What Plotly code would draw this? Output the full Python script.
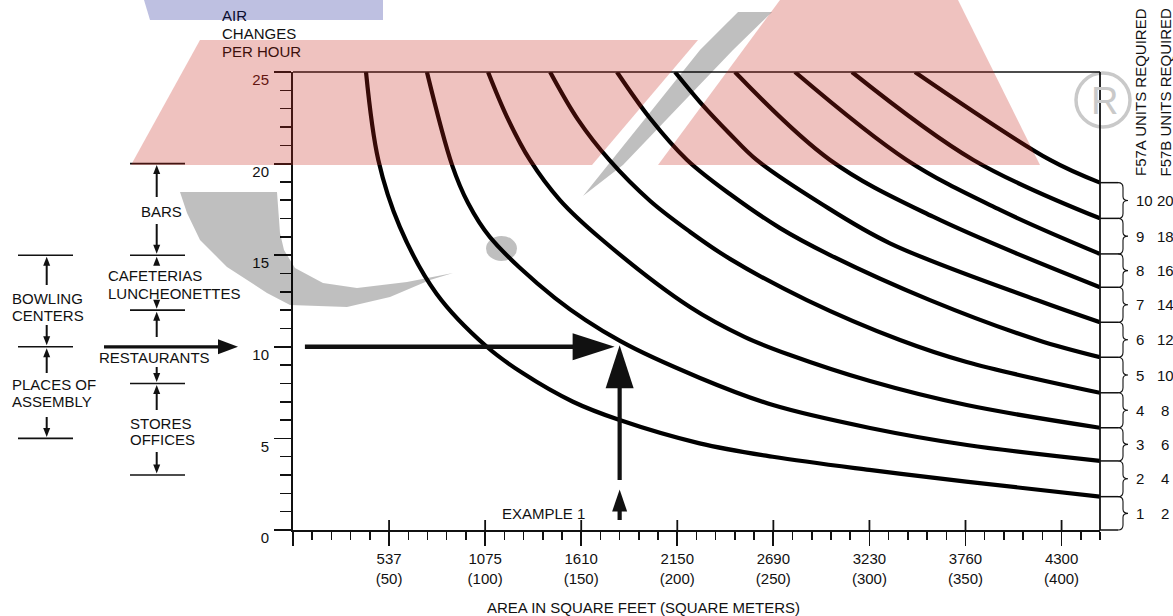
import math
import plotly.graph_objects as go

# ---------------- data (area in m², air changes per hour) ----------------
c1_x = [38, 44.4, 55.6, 74.7, 100.9, 119.7, 145.7, 170.0, 211.6, 249.7, 300.0, 350.3, 420]
c1_y = [25, 20.2, 16.55, 12.9, 10.0, 8.55, 7.0, 6.0, 4.73, 4.0, 3.28, 2.64, 1.82]
c2_x = [69.7, 82.8, 91.1, 102.5, 136.4, 170.2, 211.8, 249.8, 300.3, 350.8, 420]
c2_y = [25, 19.92, 17.85, 15.99, 12.66, 10.32, 8.30, 6.82, 5.57, 4.64, 3.77]
c3_x = [101.5, 111.4, 123.3, 138.9, 159.8, 206.6, 235.2, 258.7, 300.3, 350.6, 420]
c3_y = [25, 22.54, 20.2, 18.01, 15.94, 12.17, 10.53, 9.55, 8.13, 6.82, 5.58]
c4_x = [133.8, 148.3, 164.6, 185.9, 206.7, 227.4, 267.4, 315.9, 350.6, 420]
c4_y = [25, 22.40, 20.2, 17.96, 16.27, 14.80, 12.55, 10.37, 9.17, 7.49]
c5_x = [168.6, 185.7, 205.1, 227.4, 253.5, 279.5, 331.5, 387.5, 420]
c5_y = [25, 22.49, 20.2, 18.34, 16.48, 15.01, 12.55, 10.37, 9.43]
c6_x = [198.8, 211.8, 227.4, 241.3, 274.3, 310.7, 387.1, 420]
c6_y = [25, 23.36, 21.62, 20.2, 17.85, 15.65, 12.55, 11.34]
c7_x = [230.0, 279.5, 333.1, 420]
c7_y = [25, 20.2, 17.10, 13.25]
c8_x = [261.2, 319.4, 368.0, 420]
c8_y = [25, 20.2, 17.47, 15.07]
c9_x = [290.9, 354.1, 420]
c9_y = [25, 20.2, 17.01]
c10_x = [323.7, 394.0, 420]
c10_y = [25, 20.2, 18.96]

curves = [(c1_x, c1_y), (c2_x, c2_y), (c3_x, c3_y), (c4_x, c4_y), (c5_x, c5_y),
          (c6_x, c6_y), (c7_x, c7_y), (c8_x, c8_y), (c9_x, c9_y), (c10_x, c10_y)]

x_tick_m2 = [0, 50, 100, 150, 200, 250, 300, 350, 400]
x_tick_sqft = ["", "537", "1075", "1610", "2150", "2690", "3230", "3760", "4300"]
y_ticks = [0, 5, 10, 15, 20, 25]
units_f57a = [1, 2, 3, 4, 5, 6, 7, 8, 9, 10]
units_f57b = [2, 4, 6, 8, 10, 12, 14, 16, 18, 20]

example_area = 170      # m²
example_ach = 10

# ---------------- geometry helpers (page pixels -> paper) ----------------
W, H = 1173, 616
L, R, T, B = 293, 1100, 72, 530      # plot area, page pixels
XMAX, YMAX = 420, 25


def PX(x):
    return (x - L) / (R - L)


def PY(y):
    return (B - y) / (B - T)


def XP(v):  # data x -> page pixel
    return L + v * (R - L) / XMAX


def YP(v):  # data y -> page pixel
    return B - v * (B - T) / YMAX


shapes = []
annots = []
INK = "#111111"
FONT = "Liberation Sans, Arial, sans-serif"


def seg(x0, y0, x1, y1, w=1.5, color=INK, layer="above"):
    shapes.append(dict(type="line", xref="paper", yref="paper",
                       x0=PX(x0), y0=PY(y0), x1=PX(x1), y1=PY(y1),
                       line=dict(color=color, width=w), layer=layer))


def poly(pts, fill, layer="above"):
    d = "M" + " L".join(f"{PX(x):.5f},{PY(y):.5f}" for x, y in pts) + " Z"
    shapes.append(dict(type="path", xref="paper", yref="paper", path=d,
                       fillcolor=fill, line=dict(width=0), layer=layer))


def arrow(x0, y0, x1, y1, w, hl, hw, color=INK):
    dx, dy = x1 - x0, y1 - y0
    ln = math.hypot(dx, dy)
    ux, uy = dx / ln, dy / ln
    bx, by = x1 - ux * hl, y1 - uy * hl
    if ln > hl:
        seg(x0, y0, bx + ux * 1, by + uy * 1, w, color)
    nx, ny = -uy, ux
    poly([(x1, y1), (bx + nx * hw / 2, by + ny * hw / 2), (bx - nx * hw / 2, by - ny * hw / 2)], color)


def text(x, y, s, size=15, xanchor="left", color=INK, angle=0):
    annots.append(dict(x=PX(x), y=PY(y), xref="paper", yref="paper", text=s,
                       showarrow=False, xanchor=xanchor, yanchor="middle",
                       textangle=angle, font=dict(family=FONT, size=size, color=color)))


fig = go.Figure()
for cx, cy in curves:
    fig.add_trace(go.Scatter(x=cx, y=cy, mode="lines",
                             line=dict(color="black", width=4.2, shape="spline", smoothing=1.0),
                             hoverinfo="skip"))

# frame: top and right border
seg(L, T, R, T, 1.3)
seg(R, T, R, B, 1.8)

# upward halves of the crossing major x ticks
for v in x_tick_m2[1:]:
    seg(XP(v), B, XP(v), B - 10, 1.8)

# right-hand unit ticks, braces and labels
ends = [0] + [c[1][-1] for c in curves]
for e in ends:
    seg(R, YP(e), R + 18, YP(e), 1.5)
for i in range(len(units_f57a)):
    yb, yt = YP(ends[i]), YP(ends[i + 1])
    m = (yb + yt) / 2
    d = (f"M{PX(1118):.5f},{PY(yt):.5f} Q{PX(1123):.5f},{PY(yt):.5f} {PX(1123):.5f},{PY(yt + 5):.5f} "
         f"L{PX(1123):.5f},{PY(m - 4):.5f} Q{PX(1123):.5f},{PY(m):.5f} {PX(1128):.5f},{PY(m):.5f} "
         f"Q{PX(1123):.5f},{PY(m):.5f} {PX(1123):.5f},{PY(m + 4):.5f} "
         f"L{PX(1123):.5f},{PY(yb - 5):.5f} Q{PX(1123):.5f},{PY(yb):.5f} {PX(1118):.5f},{PY(yb):.5f}")
    shapes.append(dict(type="path", xref="paper", yref="paper", path=d,
                       line=dict(color=INK, width=1.1), layer="above"))
    text(1134, m, str(units_f57a[i]))
    text(1165, m, str(units_f57b[i]), xanchor="center")

text(1140, 92, "F57A UNITS REQUIRED", angle=-90, xanchor="center")
text(1164.5, 92, "F57B UNITS REQUIRED", angle=-90, xanchor="center")

# left-hand application brackets (ACH ranges)
col1_levels = [15, 10, 5]
col2_levels = [20, 15, 12, 8, 3]
for v in col1_levels:
    seg(18, YP(v), 73, YP(v), 1.6)
for v in col2_levels:
    seg(130, YP(v), 185, YP(v), 1.6)

ax1, ax2 = 46.7, 156.7
sa = dict(w=2, hl=9, hw=7)
arrow(ax1, 285, ax1, YP(15) + 1.5, **sa)
arrow(ax1, 325, ax1, YP(10) - 1.5, **sa)
arrow(ax1, 373, ax1, YP(10) + 1.5, **sa)
arrow(ax1, 417, ax1, YP(5) - 1.5, **sa)
arrow(ax2, 197, ax2, YP(20) + 1.5, **sa)
arrow(ax2, 224, ax2, YP(15) - 1.5, **sa)
arrow(ax2, YP(15) + 8, ax2, YP(15) + 1.5, **sa)
arrow(ax2, YP(12) - 8, ax2, YP(12) - 1.5, **sa)
arrow(ax2, 337, ax2, YP(12) + 1.5, **sa)
arrow(ax2, 367, ax2, YP(8) - 1.5, **sa)
arrow(ax2, 410, ax2, YP(8) + 1.5, **sa)
arrow(ax2, 452, ax2, YP(3) - 1.5, **sa)

# restaurants pointer
arrow(104, YP(10), 238, YP(10), 3.2, 20, 15)

# example 1 arrows
arrow(XP(6.2), YP(example_ach), XP(example_area) - 5, YP(example_ach), 4.5, 42, 27)
arrow(XP(example_area), 480, XP(example_area), YP(example_ach) - 1.5, 4.2, 43, 28)
arrow(XP(example_area), 520, XP(example_area), 489.5, 4.2, 22, 15)

# texts
text(220, 16, "AIR", color="#0a0c2e")
text(220, 33.5, "CHANGES")
text(220, 51.5, "PER HOUR", color="#3c100c")
text(161, 211, "BARS", xanchor="center")
text(106, 275.5, "CAFETERIAS")
text(106, 293.5, "LUNCHEONETTES")
text(10, 298.5, "BOWLING")
text(10, 315, "CENTERS")
text(97, 357, "RESTAURANTS")
text(10, 384.5, "PLACES OF")
text(10, 401, "ASSEMBLY")
text(128, 423, "STORES")
text(128, 439.5, "OFFICES")
text(500, 513.5, "EXAMPLE 1")
text(643, 607.5, "AREA IN SQUARE FEET (SQUARE METERS)", xanchor="center")

# ---------------- watermark (semi-transparent overlay) ----------------
shapes.append(dict(type="circle", xref="paper", yref="paper",
                   x0=PX(1076), x1=PX(1130), y0=PY(73), y1=PY(127),
                   line=dict(color="#c9c9c9", width=3.5), layer="below"))
annots.append(dict(x=PX(1104), y=PY(101), xref="paper", yref="paper", text="R",
                   showarrow=False, xanchor="center", yanchor="middle",
                   font=dict(family=FONT, size=38, color="#c9c9c9")))

PINK = "rgba(196,36,25,0.28)"
GREY = "rgba(0,0,0,0.25)"
BLUE = "rgba(23,30,148,0.28)"
poly([(144, 0), (383, 0), (383, 20), (150, 20)], BLUE)
poly([(131, 165), (200, 40), (698, 40), (592, 165)], PINK)
poly([(658, 165), (1040, 165), (958, 0), (780, 0), (743, 50)], PINK)
poly([(583, 196), (640, 125), (700, 50), (738, 12), (772, 12), (733, 50), (623, 165)], GREY)
poly([(180, 192), (187, 213), (200, 240), (227, 267), (267, 293), (290, 305), (347, 307),
      (390, 297), (430, 280), (453, 273), (407, 282), (357, 288), (323, 283), (295, 268),
      (284, 250), (280, 233), (277, 192)], GREY)
shapes.append(dict(type="circle", xref="paper", yref="paper",
                   x0=PX(486), x1=PX(517), y0=PY(236), y1=PY(261),
                   fillcolor=GREY, line=dict(width=0), layer="above"))

y_text = [str(v) for v in y_ticks]
y_text[-1] = '<span style="color:#3c100c">25</span>'

fig.update_layout(
    width=W, height=H, autosize=False,
    margin=dict(l=L, r=W - R, t=T, b=H - B, pad=0),
    paper_bgcolor="white", plot_bgcolor="rgba(0,0,0,0)",
    showlegend=False, hovermode=False,
    font=dict(family=FONT, size=15, color=INK),
    shapes=shapes, annotations=annots,
    xaxis=dict(range=[0, XMAX], showgrid=False, zeroline=False,
               showline=True, linecolor=INK, linewidth=2,
               tickmode="array", tickvals=x_tick_m2,
               ticktext=[f"{s}<br>({v})" if s else "" for s, v in zip(x_tick_sqft, x_tick_m2)],
               ticks="outside", ticklen=14, tickwidth=1.8, tickcolor=INK,
               minor=dict(dtick=10, tick0=0, ticks="outside", ticklen=8, tickwidth=1.5, tickcolor=INK),
               tickfont=dict(family=FONT, size=15, color=INK), fixedrange=True),
    yaxis=dict(range=[0, YMAX], showgrid=False, zeroline=False,
               showline=True, linecolor=INK, linewidth=2,
               tickmode="array", tickvals=y_ticks, ticktext=y_text,
               ticks="outside", ticklen=17, tickwidth=1.8, tickcolor=INK,
               minor=dict(dtick=1, tick0=0, ticks="outside", ticklen=11, tickwidth=1.5, tickcolor=INK),
               ticklabelshift=8, ticklabelstandoff=2,
               tickfont=dict(family=FONT, size=15, color=INK), fixedrange=True),
)

fig.write_html("out.html", config={"displayModeBar": False, "staticPlot": True},
               post_script="document.body.style.margin='0';document.body.style.overflow='hidden';")
